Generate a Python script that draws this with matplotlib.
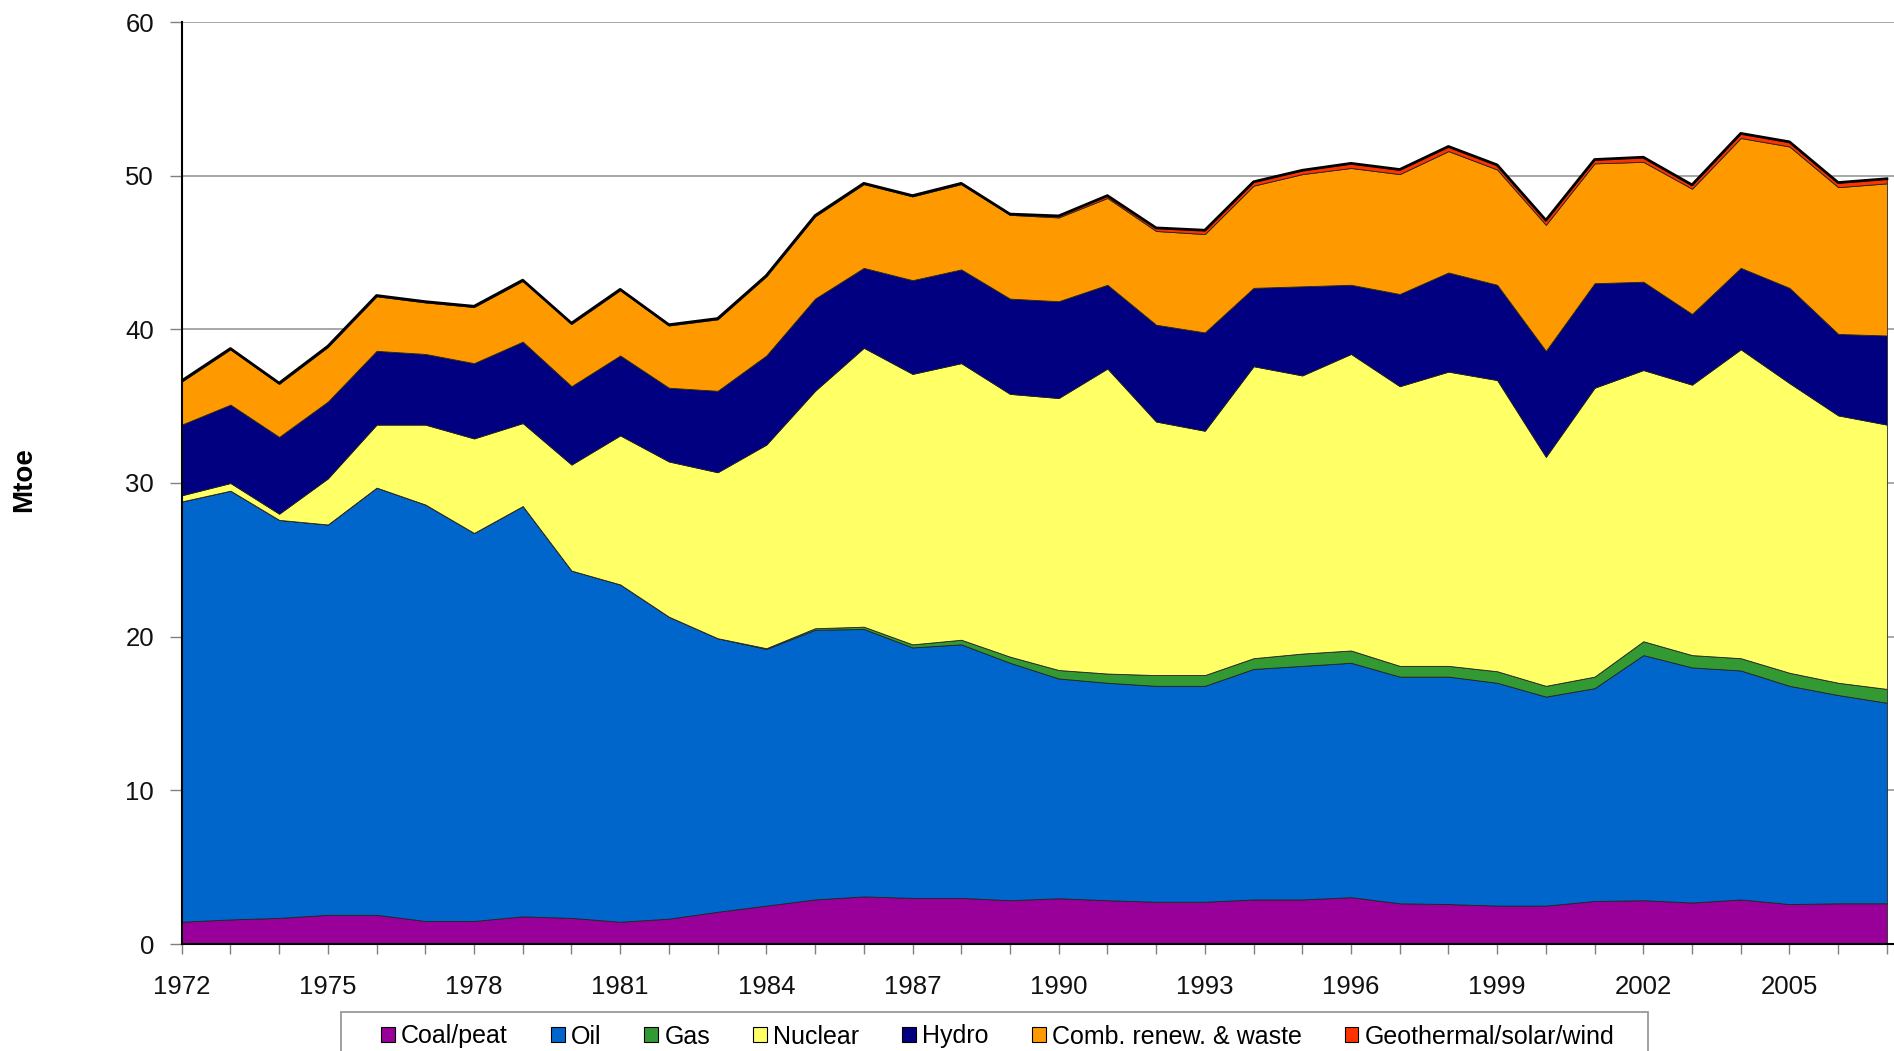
import matplotlib
matplotlib.use("Agg")
import matplotlib.pyplot as plt
from matplotlib.patches import Rectangle
import numpy as np

plt.rcParams['font.family'] = ['Liberation Sans', 'DejaVu Sans']

years = list(range(1972, 2008))

coal = [1.45, 1.6, 1.7, 1.9, 1.9, 1.5, 1.5, 1.8, 1.7, 1.45, 1.65, 2.1, 2.5, 2.9, 3.1, 3.0, 3.0, 2.85,
        2.98, 2.85, 2.75, 2.75, 2.9, 2.9, 3.05, 2.65, 2.6, 2.5, 2.5, 2.8, 2.85, 2.7, 2.9, 2.6, 2.65, 2.65]
oil = [27.35, 27.9, 25.9, 25.4, 27.8, 27.1, 25.25, 26.7, 22.6, 21.95, 19.65, 17.8, 16.7, 17.55, 17.4, 16.3,
       16.5, 15.45, 14.3, 14.15, 14.05, 14.05, 15.0, 15.2, 15.25, 14.75, 14.8, 14.5, 13.6, 13.85, 15.95,
       15.3, 14.9, 14.2, 13.55, 13.05]
gas = [0.0, 0.0, 0.0, 0.0, 0.0, 0.0, 0.0, 0.0, 0.0, 0.0, 0.0, 0.0, 0.05, 0.1, 0.15, 0.2, 0.3, 0.4,
       0.55, 0.6, 0.7, 0.7, 0.7, 0.8, 0.8, 0.7, 0.7, 0.75, 0.7, 0.75, 0.9, 0.8, 0.8, 0.85, 0.8, 0.9]
nuclear = [0.4, 0.5, 0.4, 3.0, 4.1, 5.2, 6.15, 5.4, 6.9, 9.7, 10.1, 10.8, 13.25, 15.45, 18.15, 17.6,
           18.0, 17.1, 17.7, 19.85, 16.5, 15.9, 19.0, 18.1, 19.3, 18.2, 19.15, 18.95, 14.9, 18.8, 17.65,
           17.6, 20.1, 18.85, 17.4, 17.2]
hydro = [4.6, 5.1, 5.0, 5.0, 4.8, 4.6, 4.9, 5.3, 5.1, 5.2, 4.8, 5.3, 5.8, 6.0, 5.2, 6.1, 6.1, 6.2,
         6.3, 5.45, 6.3, 6.4, 5.1, 5.8, 4.5, 6.0, 6.45, 6.2, 6.9, 6.8, 5.75, 4.6, 5.3, 6.2, 5.3, 5.8]
comb = [2.8, 3.6, 3.45, 3.55, 3.55, 3.35, 3.65, 3.95, 4.05, 4.25, 4.05, 4.65, 5.15, 5.35, 5.45, 5.45,
        5.55, 5.45, 5.45, 5.65, 6.1, 6.4, 6.65, 7.3, 7.6, 7.8, 7.9, 7.5, 8.2, 7.8, 7.8, 8.15, 8.45,
        9.2, 9.55, 9.9]
geo = [0.05, 0.05, 0.05, 0.05, 0.05, 0.05, 0.05, 0.05, 0.05, 0.05, 0.05, 0.05, 0.05, 0.05, 0.05, 0.05,
       0.05, 0.05, 0.1, 0.15, 0.2, 0.25, 0.25, 0.25, 0.3, 0.3, 0.3, 0.3, 0.3, 0.25, 0.3, 0.25, 0.3,
       0.3, 0.3, 0.3]

labels = ["Coal/peat", "Oil", "Gas", "Nuclear", "Hydro", "Comb. renew. & waste", "Geothermal/solar/wind"]
colors = ["#990099", "#0066CC", "#339933", "#FFFF66", "#000080", "#FF9900", "#FF3300"]

W, H = 1894, 1051
fig = plt.figure(figsize=(W / 100, H / 100), dpi=100)
ax = fig.add_axes([181.7 / W, (H - 944) / H, 1 - 181.7 / W, (944 - 22) / H])

series = [coal, oil, gas, nuclear, hydro, comb, geo]
polys = ax.stackplot(years, *series, colors=colors, labels=labels,
                     edgecolor="#222222", linewidth=0.6, zorder=2)

total = np.sum(np.array(series), axis=0)
ax.plot(years, total, color="black", linewidth=2.0, zorder=3)

ax.set_xlim(1972, 1972 + (W - 181.7) / 48.72)
ax.set_ylim(0, 60)
ax.set_yticks(range(0, 61, 10))
ax.set_xticks(years)
ax.set_xticklabels([str(y) if (y - 1972) % 3 == 0 else "" for y in years])
ax.yaxis.grid(True, color="#a0a0a0", linewidth=1.3, zorder=0)
ax.set_axisbelow(True)

for side in ["top", "right"]:
    ax.spines[side].set_visible(False)
for side in ["left", "bottom"]:
    ax.spines[side].set_color("black")
    ax.spines[side].set_linewidth(1.5)
    ax.spines[side].set_zorder(4)

ax.tick_params(axis="x", direction="out", length=7, width=1, color="#808080",
               labelsize=18.5, pad=15, labelcolor="#111111")
ax.tick_params(axis="y", direction="out", length=9, width=1, color="#808080",
               labelsize=18.5, pad=11, labelcolor="#111111")

fig.text(24 / W, 1 - 480 / H, "Mtoe", rotation=90, fontsize=20, fontweight="bold",
         ha="center", va="center")

# legend frame (drawn separately to match the wide side padding of the original)
fig.patches.append(Rectangle((340.6 / W, -0.05), (1647.7 - 340.6) / W, 0.05 + (H - 1012) / H,
                             transform=fig.transFigure, facecolor="white", edgecolor="#999999",
                             linewidth=1.3, zorder=0))

handles, labs = ax.get_legend_handles_labels()
leg = fig.legend(handles, labs, loc="center", bbox_to_anchor=(997.8 / W, (H - 1036.5) / H),
                 ncol=7, frameon=False, fontsize=18, handlelength=0.55,
                 handleheight=0.55, handletextpad=0.25, columnspacing=1.72, borderpad=0.0,
                 borderaxespad=0)
for h in leg.legend_handles:
    h.set_edgecolor("black")
    h.set_linewidth(0.8)

fig.savefig("out.png", dpi=100)
